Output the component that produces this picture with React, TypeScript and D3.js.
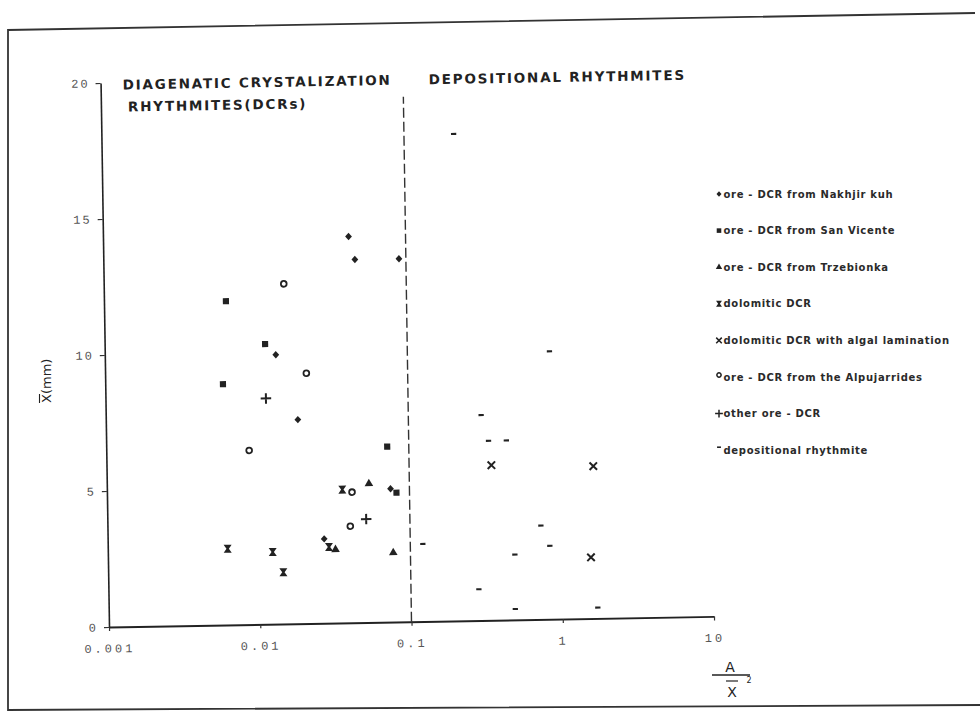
import { useEffect, useRef } from "react";
import * as d3 from "d3";

const WIDTH = 980;
const HEIGHT = 714;

// [A / X̄², X̄ (mm)]
const nakhjirKuh = [[0.042, 14.2], [0.046, 13.35], [0.0135, 9.9], [0.0186, 7.5], [0.09, 13.35], [0.075, 4.9], [0.027, 3.1]];
const sanVicente = [[0.0064, 11.9], [0.0115, 10.3], [0.006, 8.85], [0.072, 6.45], [0.082, 4.75]];
const trzebionka = [[0.054, 5.1], [0.032, 2.7], [0.077, 2.55]];
const dolomitic = [[0.036, 4.9], [0.029, 2.8], [0.0062, 2.8], [0.0123, 2.65], [0.0144, 1.9]];
const algalLamination = [[0.35, 5.7], [1.65, 5.6], [1.56, 2.25]];
const alpujarrides = [[0.0155, 12.5], [0.0214, 9.2], [0.0088, 6.4], [0.0417, 4.8], [0.0403, 3.55]];
const otherOre = [[0.0115, 8.3], [0.0514, 3.8]];
const depositional = [
  [0.213, 17.9], [0.87, 9.85], [0.303, 7.55], [0.337, 6.6], [0.442, 6.6], [0.733, 3.45],
  [0.836, 2.7], [0.121, 2.85], [0.49, 2.4], [0.281, 1.15], [0.487, 0.4], [1.71, 0.4],
];

const legendLabels = [
  "ore - DCR from Nakhjir kuh",
  "ore - DCR from San Vicente",
  "ore - DCR from Trzebionka",
  "dolomitic DCR",
  "dolomitic DCR with algal lamination",
  "ore - DCR from the Alpujarrides",
  "other ore - DCR",
  "depositional rhythmite",
];

const xTicks = [0.001, 0.01, 0.1, 1, 10];
const xTickLabels = ["0.001", "0.01", "0.1", "1", "10"];
const yTicks = [0, 5, 10, 15, 20];
const boundaryX = 0.1;
const boundaryTop = 19.3;

// custom marker shapes for d3.symbol
const diamond = {
  draw(p, s) {
    const r = Math.sqrt(s) / 2;
    p.moveTo(0, -r * 1.1); p.lineTo(r, 0); p.lineTo(0, r * 1.1); p.lineTo(-r, 0); p.closePath();
  },
};
const hourglass = {
  draw(p, s) {
    const r = Math.sqrt(s) / 2;
    p.moveTo(-r, -r); p.lineTo(r, -r); p.lineTo(r * 0.3, 0); p.lineTo(r, r);
    p.lineTo(-r, r); p.lineTo(-r * 0.3, 0); p.closePath();
  },
};
const xCross = {
  draw(p, s) {
    const r = Math.sqrt(s) / 2;
    p.moveTo(-r, -r); p.lineTo(r, r); p.moveTo(r, -r); p.lineTo(-r, r);
  },
};
const plus = {
  draw(p, s) {
    const r = Math.sqrt(s) / 2;
    p.moveTo(-r, 0); p.lineTo(r, 0); p.moveTo(0, -r); p.lineTo(0, r);
  },
};
const dash = {
  draw(p, s) {
    const r = Math.sqrt(s) / 2;
    p.rect(-r, -r * 0.4, 2 * r, r * 0.8);
  },
};

const SERIES = [
  { data: nakhjirKuh, type: diamond, size: 46, mode: "fill", legendDy: 0 },
  { data: sanVicente, type: d3.symbolSquare, size: 38, mode: "fill", legendDy: 0 },
  { data: trzebionka, type: d3.symbolTriangle, size: 32, mode: "fill", legendDy: 0 },
  { data: dolomitic, type: hourglass, size: 64, mode: "fill", legendDy: 0 },
  { data: algalLamination, type: xCross, size: 56, mode: "stroke", legendDy: 0 },
  { data: alpujarrides, type: d3.symbolCircle, size: 26, mode: "ring", legendDy: -2 },
  { data: otherOre, type: plus, size: 110, mode: "stroke", legendDy: 0 },
  { data: depositional, type: dash, size: 28, mode: "fill", legendDy: -3 },
];

const INK = "#222";

function styleMarker(sel, mode) {
  if (mode === "fill") sel.attr("fill", INK);
  else if (mode === "ring") sel.attr("fill", "#fff").attr("stroke", INK).attr("stroke-width", 1.8);
  else sel.attr("fill", "none").attr("stroke", INK).attr("stroke-width", 2);
}

function buildChart(svgEl) {
  const svg = d3.select(svgEl);
  svg.selectAll("*").remove();

  // scanned page frame
  svg.append("path")
    .attr("d", "M975,13 L8,30 L8,710 L980,705")
    .attr("fill", "none")
    .attr("stroke", "#333")
    .attr("stroke-width", 1.8);

  const left = 109, right = 714, bottom = 627, top = 83;
  const x = d3.scaleLog().domain([0.001, 10]).range([left, right]);
  const y = d3.scaleLinear().domain([0, 20]).range([bottom, top]);

  // plot area is slightly skewed in the scan
  const b = -0.0175, c = 0.0155;
  const g = svg.append("g")
    .attr("transform", `matrix(1,${b},${c},1,${-c * bottom},${-b * left})`);

  // X axis
  g.append("g")
    .attr("transform", `translate(0,${y(0)})`)
    .call(d3.axisBottom(x).tickValues(xTicks).tickFormat((d, i) => xTickLabels[i])
      .tickSize(4).tickPadding(13).tickSizeOuter(0))
    .call(ax => {
      ax.select(".domain").attr("stroke", INK).attr("stroke-width", 1.9);
      ax.selectAll("line").attr("stroke", "#333").attr("stroke-width", 1.2);
      ax.selectAll("text")
        .attr("fill", "#555")
        .style("font-size", "12px")
        .style("font-family", "'Liberation Mono', monospace")
        .style("letter-spacing", "3px");
    });

  // Y axis
  g.append("g")
    .attr("transform", `translate(${left},0)`)
    .call(d3.axisLeft(y).tickValues(yTicks).tickSize(5).tickPadding(6).tickSizeOuter(0))
    .call(ax => {
      ax.select(".domain").attr("stroke", INK).attr("stroke-width", 1.6);
      ax.selectAll("line").attr("stroke", "#333").attr("stroke-width", 1.2);
      ax.selectAll("text")
        .attr("fill", "#555")
        .style("font-size", "12px")
        .style("font-family", "'Liberation Mono', monospace")
        .style("letter-spacing", "2px");
    });

  // DCR / depositional boundary
  g.append("line")
    .attr("x1", x(boundaryX)).attr("x2", x(boundaryX))
    .attr("y1", y(0)).attr("y2", y(boundaryTop))
    .attr("stroke", "#333")
    .attr("stroke-width", 1.4)
    .attr("stroke-dasharray", "10 4");

  // region titles
  const title = (tx, ty, txt) =>
    g.append("text")
      .attr("x", tx).attr("y", ty)
      .attr("fill", INK)
      .style("font-family", "'DejaVu Sans', sans-serif")
      .style("font-size", "13.5px")
      .style("font-weight", "bold")
      .style("letter-spacing", "1.8px")
      .text(txt);
  title(131, 90, "DIAGENATIC CRYSTALIZATION");
  title(136, 112, "RHYTHMITES(DCRs)");
  title(437, 90, "DEPOSITIONAL RHYTHMITES");

  // markers
  SERIES.forEach(s => {
    const gen = d3.symbol().type(s.type).size(s.size);
    g.append("g").selectAll("path")
      .data(s.data)
      .join("path")
      .attr("transform", d => `translate(${x(d[0])},${y(d[1])})`)
      .attr("d", gen)
      .call(sel => styleMarker(sel, s.mode));
  });

  // legend
  const legend = svg.append("g").attr("transform", "translate(719,194)");
  SERIES.forEach((s, i) => {
    const row = legend.append("g").attr("transform", `translate(0,${i * 36.6})`);
    row.append("path")
      .attr("transform", `translate(0,${s.legendDy})`)
      .attr("d", d3.symbol().type(s.type).size(s.size * 0.55)())
      .call(sel => styleMarker(sel, s.mode))
      .attr("stroke-width", s.mode === "fill" ? null : 1.5);
    row.append("text")
      .attr("x", 4.5).attr("y", 3.5)
      .attr("fill", "#2a2a2a")
      .style("font-family", "'DejaVu Sans', sans-serif")
      .style("font-size", "10px")
      .style("font-weight", "bold")
      .style("letter-spacing", "0.7px")
      .text(legendLabels[i]);
  });

  // y axis title: X̄(mm)
  const yt = svg.append("g").attr("transform", "translate(51,403) rotate(-90)");
  yt.append("text")
    .attr("fill", INK)
    .style("font-family", "'DejaVu Sans', sans-serif")
    .style("font-size", "13px")
    .text("X(mm)");
  yt.append("line").attr("x1", 0).attr("x2", 9).attr("y1", -11.5).attr("y2", -11.5)
    .attr("stroke", INK).attr("stroke-width", 1.1);

  // x axis title: A / X̄²
  const xt = svg.append("g").attr("transform", "translate(730,0)");
  const lab = (tx, ty, txt, fs) =>
    xt.append("text").attr("x", tx).attr("y", ty).attr("text-anchor", "middle")
      .attr("fill", INK)
      .style("font-family", "'DejaVu Sans', sans-serif")
      .style("font-size", fs)
      .text(txt);
  lab(0, 672, "A", "14px");
  xt.append("line").attr("x1", -18).attr("x2", 20).attr("y1", 675).attr("y2", 675)
    .attr("stroke", INK).attr("stroke-width", 1.6);
  lab(2, 697, "X", "14px");
  xt.append("line").attr("x1", -4).attr("x2", 8).attr("y1", 681).attr("y2", 681)
    .attr("stroke", INK).attr("stroke-width", 1.2);
  lab(19, 683, "2", "8px");
}

export default function App() {
  const svgRef = useRef(null);
  useEffect(() => {
    if (svgRef.current) buildChart(svgRef.current);
  }, []);
  return (
    <svg
      ref={svgRef}
      width={WIDTH}
      height={HEIGHT}
      style={{ position: "absolute", left: 0, top: 0, background: "#fff", display: "block" }}
    />
  );
}
